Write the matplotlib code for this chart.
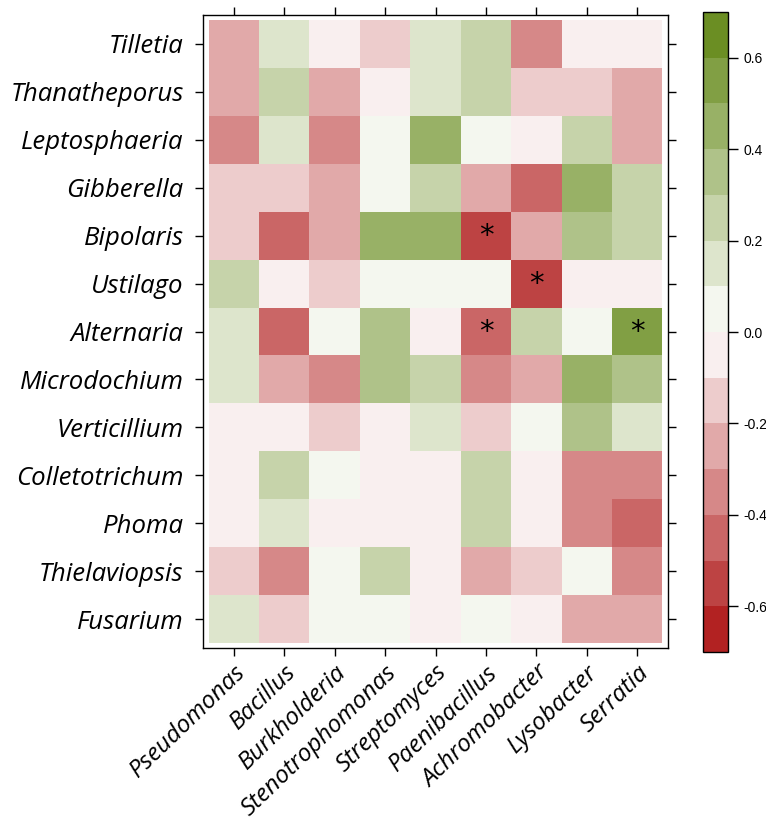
import matplotlib
matplotlib.use("Agg")
import matplotlib.pyplot as plt
import numpy as np
from matplotlib.colors import LinearSegmentedColormap, ListedColormap, BoundaryNorm

# bactérias (colunas) e fungos (linhas, de cima para baixo)
bacterias = ["Pseudomonas", "Bacillus", "Burkholderia", "Stenotrophomonas", "Streptomyces",
             "Paenibacillus", "Achromobacter", "Lysobacter", "Serratia"]
fungos = ["Tilletia", "Thanatheporus", "Leptosphaeria", "Gibberella", "Bipolaris", "Ustilago",
          "Alternaria", "Microdochium", "Verticillium", "Colletotrichum", "Phoma",
          "Thielaviopsis", "Fusarium"]

# correlações (uma linha por fungo)
tilletia       = [-0.25,  0.15, -0.05, -0.15,  0.15,  0.25, -0.35, -0.05, -0.05]
thanatheporus  = [-0.25,  0.25, -0.25, -0.05,  0.15,  0.25, -0.15, -0.15, -0.25]
leptosphaeria  = [-0.35,  0.15, -0.35,  0.05,  0.45,  0.05, -0.05,  0.25, -0.25]
gibberella     = [-0.15, -0.15, -0.25,  0.05,  0.25, -0.25, -0.45,  0.45,  0.25]
bipolaris      = [-0.15, -0.45, -0.25,  0.45,  0.45, -0.55, -0.25,  0.35,  0.25]
ustilago       = [ 0.25, -0.05, -0.15,  0.05,  0.05,  0.05, -0.55, -0.05, -0.05]
alternaria     = [ 0.15, -0.45,  0.05,  0.35, -0.05, -0.45,  0.25,  0.05,  0.55]
microdochium   = [ 0.15, -0.25, -0.35,  0.35,  0.25, -0.35, -0.25,  0.45,  0.35]
verticillium   = [-0.05, -0.05, -0.15, -0.05,  0.15, -0.15,  0.05,  0.35,  0.15]
colletotrichum = [-0.05,  0.25,  0.05, -0.05, -0.05,  0.25, -0.05, -0.35, -0.35]
phoma          = [-0.05,  0.15, -0.05, -0.05, -0.05,  0.25, -0.05, -0.35, -0.45]
thielaviopsis  = [-0.15, -0.35,  0.05,  0.25, -0.05, -0.25, -0.15,  0.05, -0.35]
fusarium       = [ 0.15, -0.15,  0.05,  0.05, -0.05,  0.05, -0.05, -0.25, -0.25]

# células significativas (fungo, bactéria)
significativos = [("Bipolaris", "Paenibacillus"), ("Ustilago", "Achromobacter"),
                  ("Alternaria", "Paenibacillus"), ("Alternaria", "Serratia")]

valores = np.array([tilletia, thanatheporus, leptosphaeria, gibberella, bipolaris, ustilago,
                    alternaria, microdochium, verticillium, colletotrichum, phoma,
                    thielaviopsis, fusarium])

# paleta discreta vermelho -> branco -> verde (14 níveis)
limites = np.round(np.arange(-0.7, 0.71, 0.1), 2)
rampa = LinearSegmentedColormap.from_list("rampa", ["firebrick", "white", "olivedrab"])
cmap = ListedColormap([rampa(t) for t in np.linspace(0, 1, len(limites) - 1)])
norm = BoundaryNorm(limites, cmap.N)

fig = plt.figure(figsize=(7.66, 8.25), dpi=100)
ax = fig.add_axes([203 / 766, 177 / 825, 465 / 766, 633 / 825])
cax = fig.add_axes([703 / 766, 173 / 825, 25 / 766, 640 / 825])

n_lin, n_col = valores.shape
# linha 0 (Tilletia) fica no topo
x_bordas = np.arange(n_col + 1) - 0.5
y_bordas = np.arange(n_lin + 1) - 0.5
malha = ax.pcolormesh(x_bordas, y_bordas, valores[::-1], cmap=cmap, norm=norm)

for fungo, bacteria in significativos:
    i = n_lin - 1 - fungos.index(fungo)
    j = bacterias.index(bacteria)
    ax.text(j, i, "*", ha="center", va="center", fontsize=21, color="black")

ax.set_xlim(-0.61, n_col - 0.39)
ax.set_ylim(-0.6, n_lin - 0.4)
ax.set_xticks(range(n_col))
ax.set_yticks(range(n_lin))
ax.set_xticklabels(bacterias, rotation=44, ha="right", rotation_mode="anchor",
                   fontsize=17.5, style="italic", family="Open Sans")
ax.set_yticklabels(fungos[::-1], fontsize=18.5, style="italic", family="Open Sans")
ax.tick_params(axis="both", direction="out", length=6, width=1, top=True, right=True,
               labeltop=False, labelright=False)
ax.tick_params(axis="y", pad=8)
ax.tick_params(axis="x", pad=3)
for lado in ax.spines.values():
    lado.set_linewidth(1)

cb = fig.colorbar(malha, cax=cax, ticks=[-0.6, -0.4, -0.2, 0.0, 0.2, 0.4, 0.6])
cb.ax.minorticks_off()
cb.ax.set_yticklabels(["-0.6", "-0.4", "-0.2", "0.0", "0.2", "0.4", "0.6"],
                      fontsize=10, family="Liberation Sans")
cb.ax.tick_params(direction="out", length=7, width=1, pad=4)
cb.outline.set_linewidth(1)

fig.savefig("out.png", dpi=100)
